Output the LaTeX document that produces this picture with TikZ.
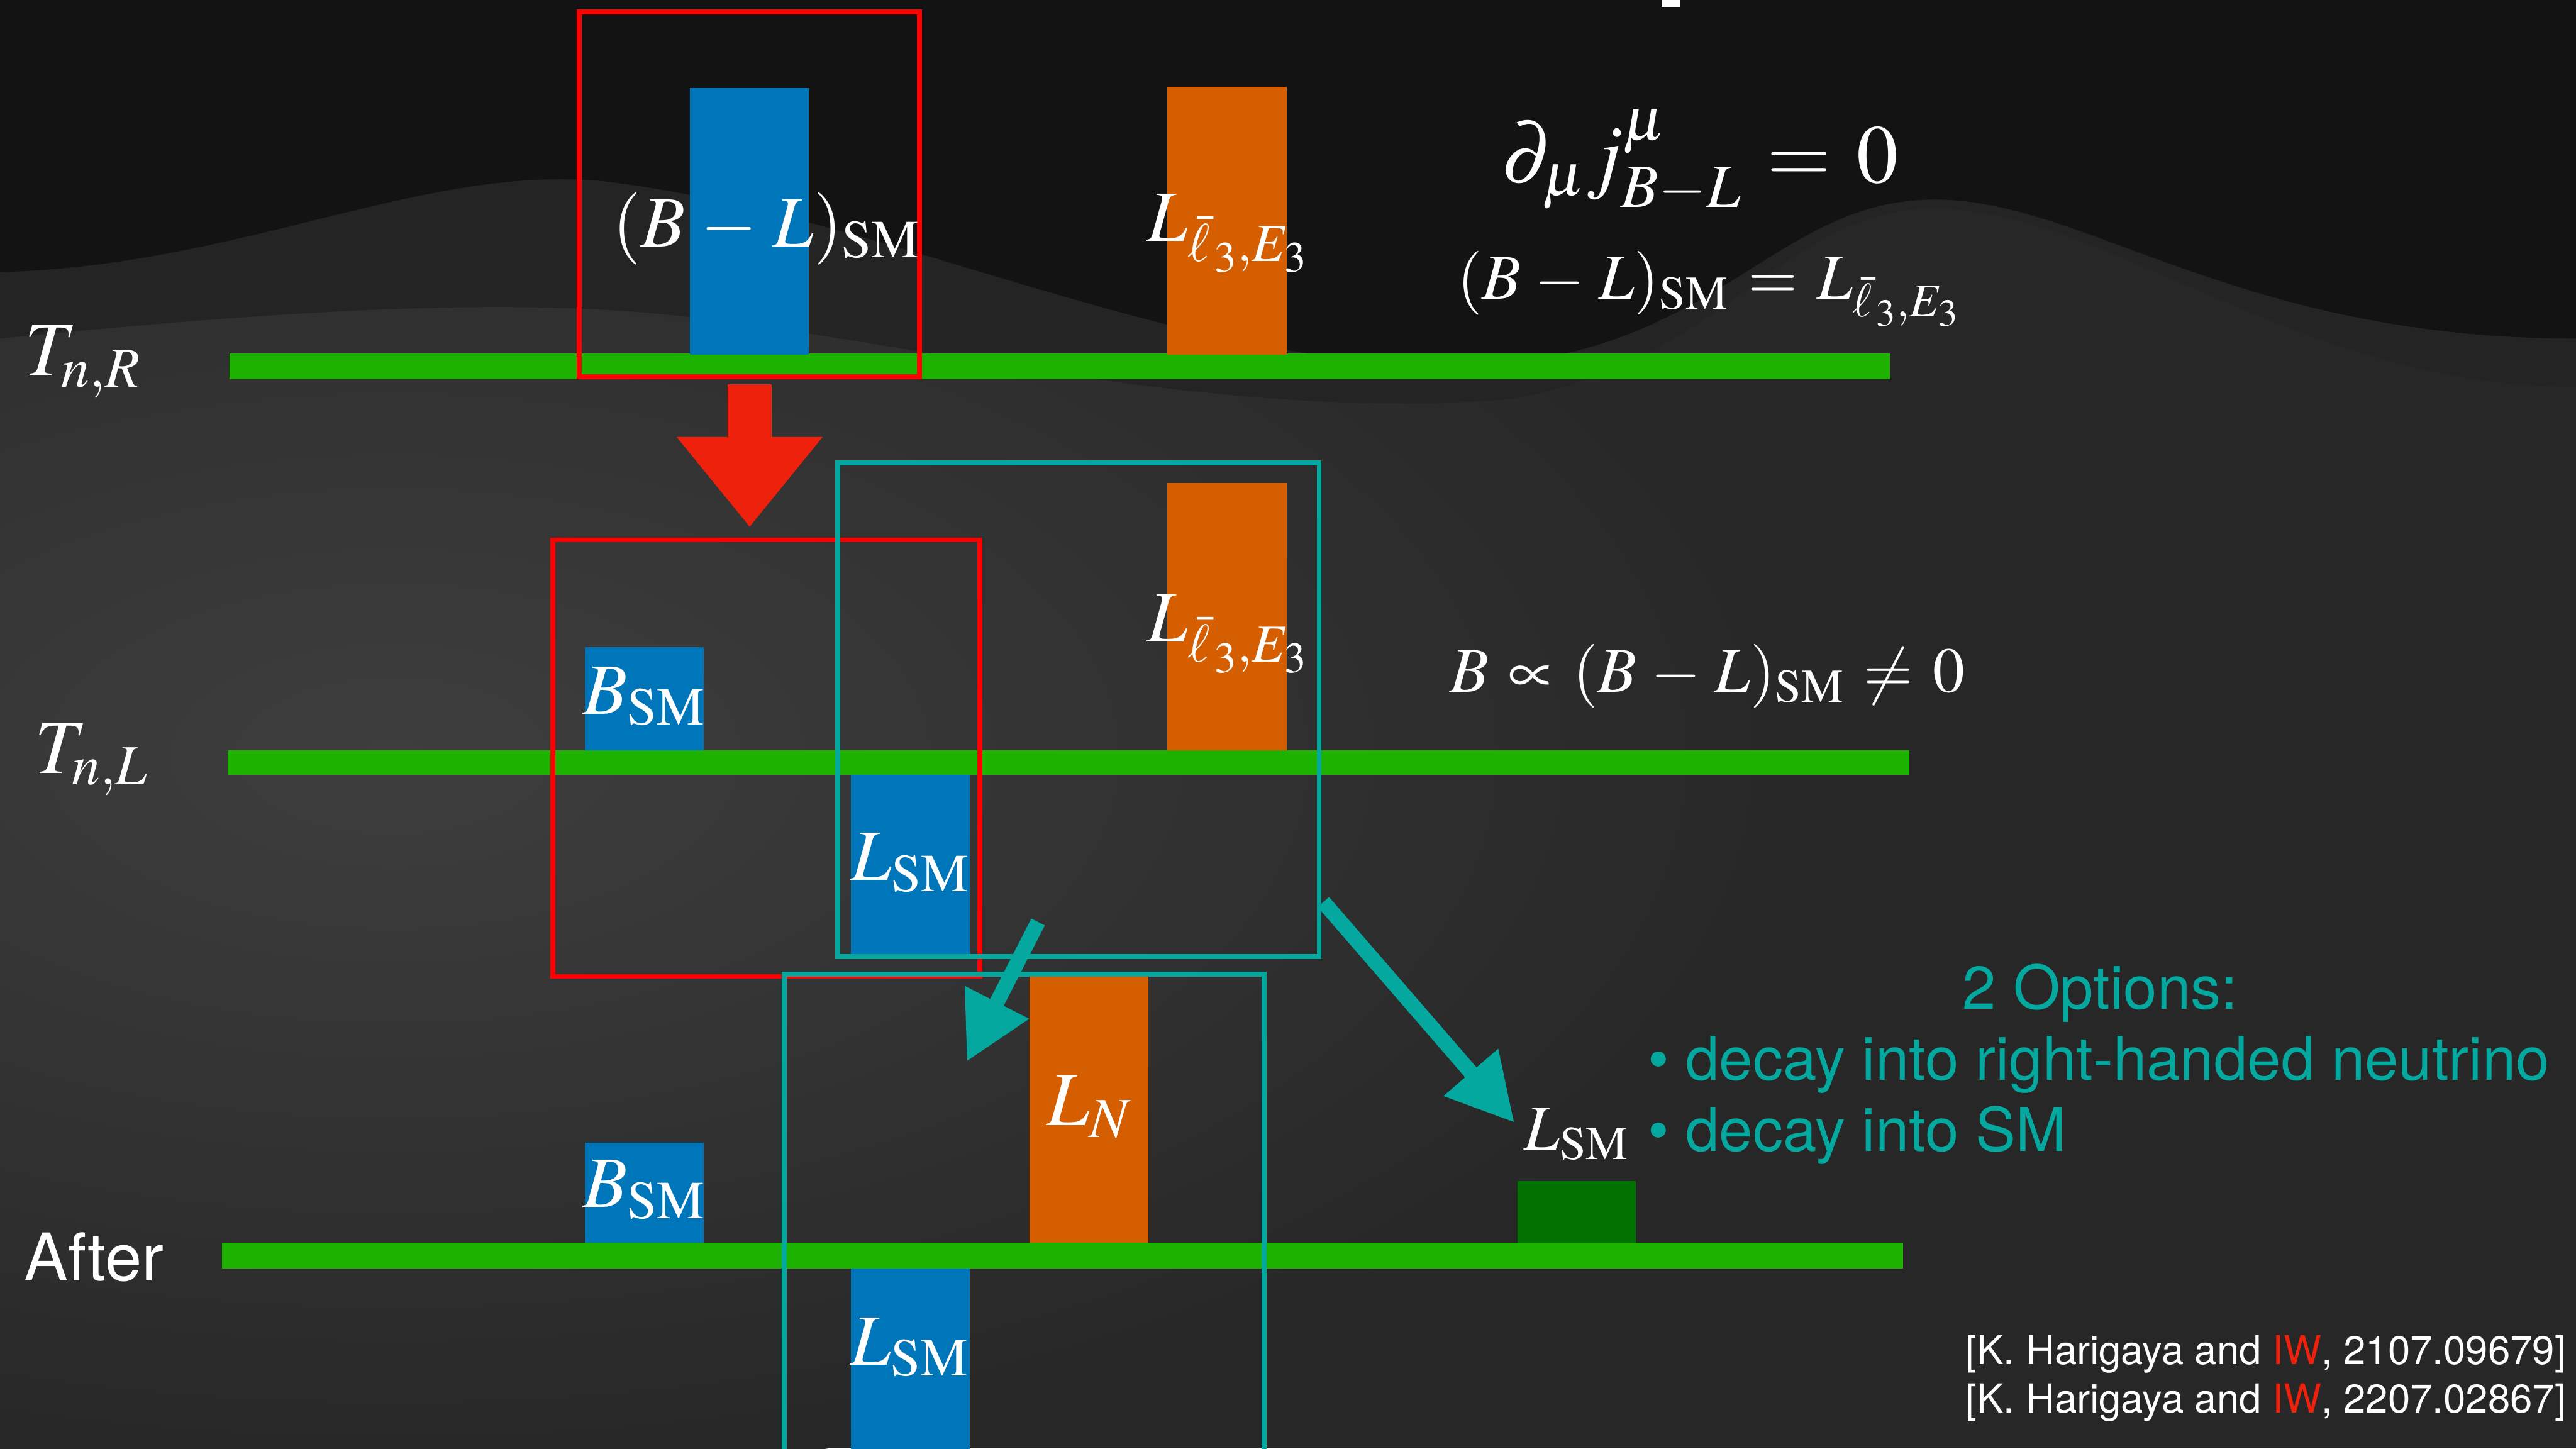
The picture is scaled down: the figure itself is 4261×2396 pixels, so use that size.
\documentclass[tikz,border=0pt]{standalone}
\usepackage{mathptmx}
\usepackage[no-math]{fontspec}
\newfontfamily\helv{TeX Gyre Heros}
\usetikzlibrary{arrows.meta}

\definecolor{bgbase}{RGB}{39,39,39}
\definecolor{bglight}{RGB}{62,62,62}
\definecolor{bgtop}{RGB}{19,19,19}
\definecolor{bghill}{RGB}{36,36,36}
\definecolor{bargreen}{RGB}{29,178,0}
\definecolor{barblue}{RGB}{0,118,186}
\definecolor{barorange}{RGB}{213,94,0}
\definecolor{smgreen}{RGB}{0,112,0}
\definecolor{boxred}{RGB}{255,0,0}
\definecolor{arrred}{RGB}{238,34,12}
\definecolor{optteal}{RGB}{4,168,158}

\medmuskip=4mu plus 2mu minus 2mu
\thickmuskip=5.5mu plus 3mu

\begin{document}
\begin{tikzpicture}[
				x=0.01cm, y=-0.01cm,
				line join=miter,
				barlbl/.style={text=white, inner sep=0pt, anchor=base, font=\fontsize{34}{40}\selectfont},
				eqlbl/.style={text=white, inner sep=0pt, anchor=base, font=\fontsize{30}{36}\selectfont},
				rowlbl/.style={text=white, inner sep=0pt, anchor=base west, font=\fontsize{36}{42}\selectfont},
				optlbl/.style={text=optteal, inner sep=0pt, font=\helv\fontsize{28.4}{32}\selectfont},
				citelbl/.style={text=white, inner sep=0pt, anchor=base east, font=\helv\fontsize{18.8}{22}\selectfont},
				redbox/.style={draw=boxred, line width=2.3pt},
				tealbox/.style={draw=optteal, line width=2.3pt},
				convert/.style={draw=arrred, line width=20.8pt, -{Triangle[length=42.4pt, width=65.7pt]}},
				decay/.style={draw=optteal, line width=7.1pt, -{Triangle[length=31.3pt, width=31.9pt]}}
				]
				\useasboundingbox (0,0) rectangle (4261,2396);
				\clip (0,0) rectangle (4261,2396);
				
				% Background
				\fill[bgbase] (0,0) rectangle (4261,2396);
				\shade[inner color=bglight, outer color=bgbase] (650,1250) ellipse [x radius=24cm, y radius=12cm];
				\fill[bghill] (0,0) -- (4261,0) -- (4261,640) .. controls (3800,640) and (3500,350) .. (3200,345)
					.. controls (2950,345) and (2850,600) .. (2500,660) .. controls (2000,700) and (1500,560) .. (1100,520)
					.. controls (800,490) and (400,520) .. (0,560) -- cycle;
				\fill[bgtop] (0,0) -- (4261,0) -- (4261,560) .. controls (3700,560) and (3450,330) .. (3200,330)
					.. controls (2950,330) and (2850,560) .. (2500,600) .. controls (2000,640) and (1500,360) .. (1000,300)
					.. controls (700,270) and (400,440) .. (0,450) -- cycle;
				\fill[white] (2748,0) rectangle (2780,11);
				
				% Levels
				\fill[bargreen] (380,585) rectangle (3126,627);
				\fill[bargreen] (377,1241) rectangle (3158,1282);
				\fill[bargreen] (367,2056) rectangle (3148,2098);
				
				% Charges at T_{n,R}
				\fill[barblue] (1141,146) rectangle (1338,587);
				\fill[barorange] (1931,144) rectangle (2128,587);
				
				% Charges at T_{n,L}
				\fill[barblue] (967,1070) rectangle (1164,1241);
				\fill[barorange] (1931,799) rectangle (2128,1241);
				\fill[barblue] (1407,1282) rectangle (1604,1578);
				
				% Charges after decay
				\fill[barblue] (967,1890) rectangle (1164,2056);
				\fill[barorange] (1703,1614) rectangle (1900,2056);
				\fill[barblue] (1407,2098) rectangle (1604,2420);
				\fill[smgreen] (2510,1954) rectangle (2706,2056);
				
				% Frames
				\draw[redbox] (958,20) rectangle (1521,623);
				\draw[redbox] (914,893) rectangle (1621,1615);
				\draw[tealbox] (1386,766) rectangle (2182,1582);
				\draw[tealbox] (1297,1611) rectangle (2091,2430);
				
				% Arrows
				\coordinate (cvtail) at (1240,636);
				\coordinate (cvtip) at (1240,872);
				\draw[convert] (cvtail) -- (cvtip);
				\coordinate (rhtail) at (1717,1525);
				\coordinate (rhtip) at (1599,1756);
				\draw[decay] (rhtail) -- (rhtip);
				\coordinate (smtail) at (2189,1492);
				\coordinate (smtip) at (2505,1857);
				\draw[decay] (smtail) -- (smtip);
				
				% Labels in the bars
				\node[barlbl] (blsm) at (1268,408) {$(B-L)_{\mathrm{SM}}$};
				\node[barlbl] (lrone) at (2031,399) {$L_{\bar{\ell}_{\,3},E_3}$};
				\node[barlbl] (lrtwo) at (2031,1062) {$L_{\bar{\ell}_{\,3},E_3}$};
				\node[barlbl] (bsmone) at (1066,1181) {$B_{\mathrm{SM}}$};
				\node[barlbl] (lsmone) at (1506,1456) {$L_{\mathrm{SM}}$};
				\node[barlbl] (bsmtwo) at (1066,1997) {$B_{\mathrm{SM}}$};
				\node[barlbl, font=\fontsize{36}{42}\selectfont] (ln) at (1802,1862) {$L_N$};
				\node[barlbl] (lsmtwo) at (1505,2258) {$L_{\mathrm{SM}}$};
				\node[eqlbl] (lsmout) at (2608,1902) {$L_{\mathrm{SM}}$};
				
				% Row labels
				\node[rowlbl] (tnr) at (40,621) {$T_{n,R}$};
				\node[rowlbl] (tnl) at (57,1279) {$T_{n,L}$};
				\node[rowlbl, font=\helv\fontsize{31}{36}\selectfont] (after) at (39,2118) {After};
				
				% Equations
				\node[eqlbl, font=\fontsize{39}{44}\selectfont] (cons) at (2812,302) {$\partial_\mu j^\mu_{B-L} = 0$};
				\node[eqlbl] (equal) at (2826,495) {$(B-L)_{\mathrm{SM}} = L_{\bar{\ell}_{\,3},E_3}$};
				\node[eqlbl] (prop) at (2824,1145) {$B \propto (B-L)_{\mathrm{SM}} \neq 0$};
				
				% Options
				\node[optlbl, anchor=base] (opts) at (3474,1669) {2 Options:};
				\node[optlbl, anchor=base west] (optone) at (2725,1787) {• decay into right-handed neutrino};
				\node[optlbl, anchor=base west] (opttwo) at (2725,1904) {• decay into SM};
				
				% References
				\node[citelbl] (refone) at (4245,2257) {[K. Harigaya and \textcolor{arrred}{IW}, 2107.09679]};
				\node[citelbl] (reftwo) at (4245,2337) {[K. Harigaya and \textcolor{arrred}{IW}, 2207.02867]};
			\end{tikzpicture}
\end{document}
